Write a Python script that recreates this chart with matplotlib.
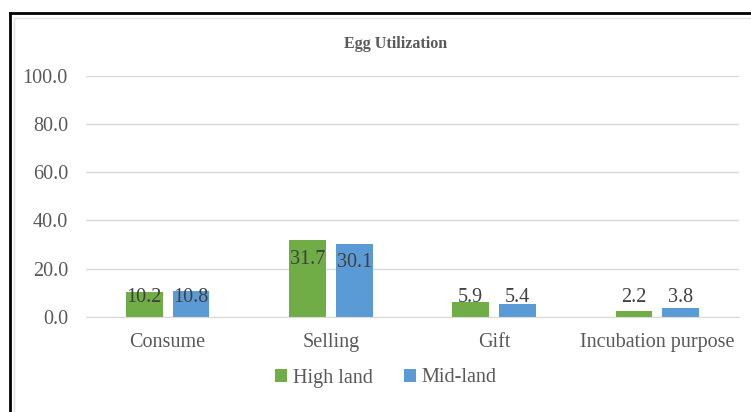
import matplotlib.pyplot as plt
from matplotlib.lines import Line2D
import numpy as np

categories = ["Consume", "Selling", "Gift", "Incubation purpose"]
high_land = [10.2, 31.7, 5.9, 2.2]
mid_land = [10.8, 30.1, 5.4, 3.8]
series_names = ["High land", "Mid-land"]
yticks = [0, 20, 40, 60, 80, 100]

plt.rcParams['font.family'] = ['Liberation Serif', 'DejaVu Serif']

W, H = 751, 412
fig = plt.figure(figsize=(W / 100, H / 100), dpi=100)
ax = fig.add_axes([86 / W, 1 - 316.7 / H, (739 - 86) / W, (316.7 - 75.7) / H])

x = np.arange(len(categories))
width = 0.225
off = 0.143
green = '#70AD47'
blue = '#5B9BD5'
txt = '#595959'

b1 = ax.bar(x - off, high_land, width, color=green, label=series_names[0], zorder=2)
b2 = ax.bar(x + off, mid_land, width, color=blue, label=series_names[1], zorder=2)

# data labels: inside end, but not lower than a minimum height
for xs, vals in [(x - off, high_land), (x + off, mid_land)]:
    for xi, v in zip(xs, vals):
        ax.text(xi, max(v - 7.8, 7.9), f"{v:.1f}", ha='center', va='center',
                fontsize=14.5, color='#404040', zorder=3)

ax.set_xlim(-0.5, 3.5)
ax.set_ylim(0, 100)
ax.set_yticks(yticks)
ax.set_yticklabels([f"{t:.1f}" for t in yticks])
ax.set_xticks(x)
ax.set_xticklabels(categories)
ax.tick_params(axis='y', length=0, pad=13, labelsize=14.5, labelcolor=txt)
ax.tick_params(axis='x', length=0, pad=12, labelsize=14.5, labelcolor=txt)
ax.yaxis.grid(True, color='#D9D9D9', linewidth=1, zorder=0)
for s in ['top', 'right', 'left']:
    ax.spines[s].set_visible(False)
ax.spines['bottom'].set_color('#D9D9D9')

fig.text(0.5 + 20 / W, 1 - 44 / H, "Egg Utilization", ha='center', va='center',
         fontsize=11.5, fontweight='bold', color=txt)

leg = fig.legend(handles=[b1, b2], labels=series_names, loc='center',
                 bbox_to_anchor=(386 / W, 1 - 378 / H), ncol=2, frameon=False,
                 fontsize=14.5, handlelength=0.6, handleheight=0.6,
                 handletextpad=0.3, columnspacing=1.5)
for t in leg.get_texts():
    t.set_color(txt)

# outer frame (left and top) plus light chart-area border
fig.add_artist(Line2D([10 / W, 10 / W], [0, 1 - 13 / H], color='black', linewidth=2))
fig.add_artist(Line2D([10 / W, 1], [1 - 13 / H, 1 - 13 / H], color='black', linewidth=2))
fig.add_artist(Line2D([13.5 / W, 13.5 / W], [0, 1 - 18 / H], color='#E0E0E0', linewidth=1))
fig.add_artist(Line2D([13.5 / W, 1], [1 - 18 / H, 1 - 18 / H], color='#E0E0E0', linewidth=1))

fig.savefig("out.png", dpi=100)
